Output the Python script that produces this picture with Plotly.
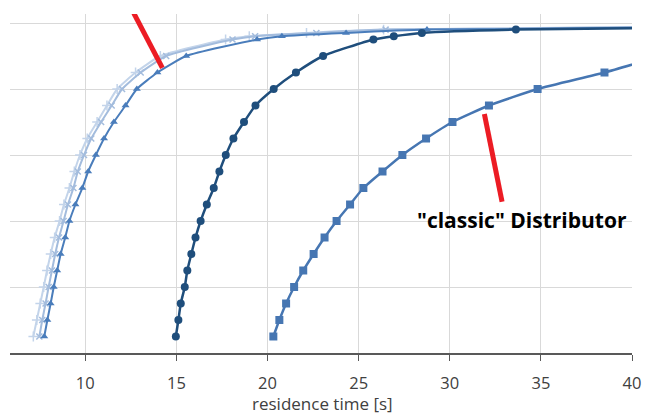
import plotly.graph_objects as go

# cumulative fraction levels of the measured points
y_levels = [0.05, 0.10, 0.15, 0.20, 0.25, 0.30, 0.35, 0.40, 0.45, 0.50, 0.55, 0.60,
            0.65, 0.70, 0.75, 0.80, 0.85, 0.90, 0.95, 0.96, 0.97, 0.98, 0.99]

# residence time [s] per level for each series
x_pale = [7.15, 7.34, 7.53, 7.72, 7.90, 8.10, 8.32, 8.59, 8.83, 9.13, 9.40, 9.71,
          10.11, 10.65, 11.19, 11.75, 12.76, 14.12, 17.70, 19.00, 22.14, 26.37, 44.0]
x_light = [7.48, 7.64, 7.82, 7.99, 8.17, 8.35, 8.56, 8.81, 9.05, 9.35, 9.59, 9.93,
           10.33, 10.87, 11.45, 12.02, 13.04, 14.44, 18.08, 19.32, 22.68, 26.48, 46.0]
x_tri = [7.75, 7.92, 8.10, 8.27, 8.46, 8.65, 8.90, 9.13, 9.46, 9.84, 10.16, 10.58,
         11.03, 11.57, 12.21, 12.83, 13.96, 15.54, 19.43, 20.79, 24.31, 28.75, 50.0]
x_circ = [14.97, 15.11, 15.24, 15.46, 15.60, 15.82, 16.05, 16.33, 16.67, 17.05, 17.36, 17.71,
          18.13, 18.71, 19.34, 20.34, 21.56, 23.05, 25.81, 26.93, 28.47, 33.63, 50.0]
y_square = [0.05, 0.10, 0.15, 0.20, 0.25, 0.30, 0.35, 0.40, 0.45, 0.50, 0.55, 0.60,
            0.65, 0.70, 0.75, 0.80, 0.85, 0.90]
x_square = [20.32, 20.65, 21.02, 21.46, 21.96, 22.53, 23.13, 23.79, 24.53, 25.26, 26.31, 27.40,
            28.70, 30.15, 32.15, 34.82, 38.49, 41.6]

x_ticks = [10, 15, 20, 25, 30, 35, 40]
x_title = "residence time [s]"
label_text = "\"classic\" Distributor"

fig = go.Figure()

fig.add_trace(go.Scatter(x=x_pale, y=y_levels, mode="lines+markers",
                         line=dict(color="#c3d4ea", width=2, shape="spline", smoothing=0.5),
                         marker=dict(symbol="cross-thin", size=7, color="#c3d4ea",
                                     line=dict(color="#c3d4ea", width=1.5))))
fig.add_trace(go.Scatter(x=x_light, y=y_levels, mode="lines+markers",
                         line=dict(color="#a3bcdd", width=2, shape="spline", smoothing=0.5),
                         marker=dict(symbol="x-thin", size=6, color="#a3bcdd",
                                     line=dict(color="#a3bcdd", width=1.5))))
fig.add_trace(go.Scatter(x=x_tri, y=y_levels, mode="lines+markers",
                         line=dict(color="#4a7dbb", width=2, shape="spline", smoothing=0.5),
                         marker=dict(symbol="triangle-up", size=7, color="#4a7dbb")))
fig.add_trace(go.Scatter(x=x_circ, y=y_levels, mode="lines+markers",
                         line=dict(color="#1f4e7c", width=2.5, shape="spline", smoothing=0.5),
                         marker=dict(symbol="circle", size=8, color="#1f4e7c")))
fig.add_trace(go.Scatter(x=x_square, y=y_square, mode="lines+markers",
                         line=dict(color="#4676b2", width=2.5, shape="spline", smoothing=0.5),
                         marker=dict(symbol="square", size=8, color="#4676b2")))

red = "#ec1c24"
fig.add_shape(type="line", xref="x", yref="y", x0=12.66, y0=1.03, x1=14.23, y1=0.864,
              line=dict(color=red, width=5))
fig.add_shape(type="line", xref="x", yref="y", x0=31.90, y0=0.724, x1=32.87, y1=0.458,
              line=dict(color=red, width=5))

fig.add_annotation(x=33.95, y=0.403, xref="x", yref="y", text="<b>" + label_text + "</b>",
                   showarrow=False, font=dict(family="Open Sans", size=21, color="#000000"))
fig.add_annotation(x=0.502, y=-0.149, xref="paper", yref="paper", text=x_title,
                   showarrow=False, yanchor="middle", borderpad=0,
                   font=dict(family="Open Sans", size=17, color="#404040"))

fig.update_layout(
    width=651, height=416,
    margin=dict(l=10, r=10, t=14, b=63),
    plot_bgcolor="white", paper_bgcolor="white",
    showlegend=False,
    xaxis=dict(range=[5.87, 40], tickvals=x_ticks, showgrid=True, gridcolor="#d9d9d9",
               gridwidth=1, zeroline=False, showline=True, linecolor="#595959", linewidth=1.5,
               ticks="outside", ticklen=6, tickcolor="#595959", tickwidth=1.2,
               ticklabelstandoff=8,
               tickfont=dict(family="Open Sans", size=16.5, color="#404040")),
    yaxis=dict(range=[0, 1.0273], tick0=0, dtick=0.2, showticklabels=False, showgrid=True,
               gridcolor="#d9d9d9", gridwidth=1, zeroline=False, showline=False, ticks=""),
)

fig.write_html("out.html", config={"displayModeBar": False},
               post_script="document.body.style.margin='0';document.body.style.overflow='hidden';")
